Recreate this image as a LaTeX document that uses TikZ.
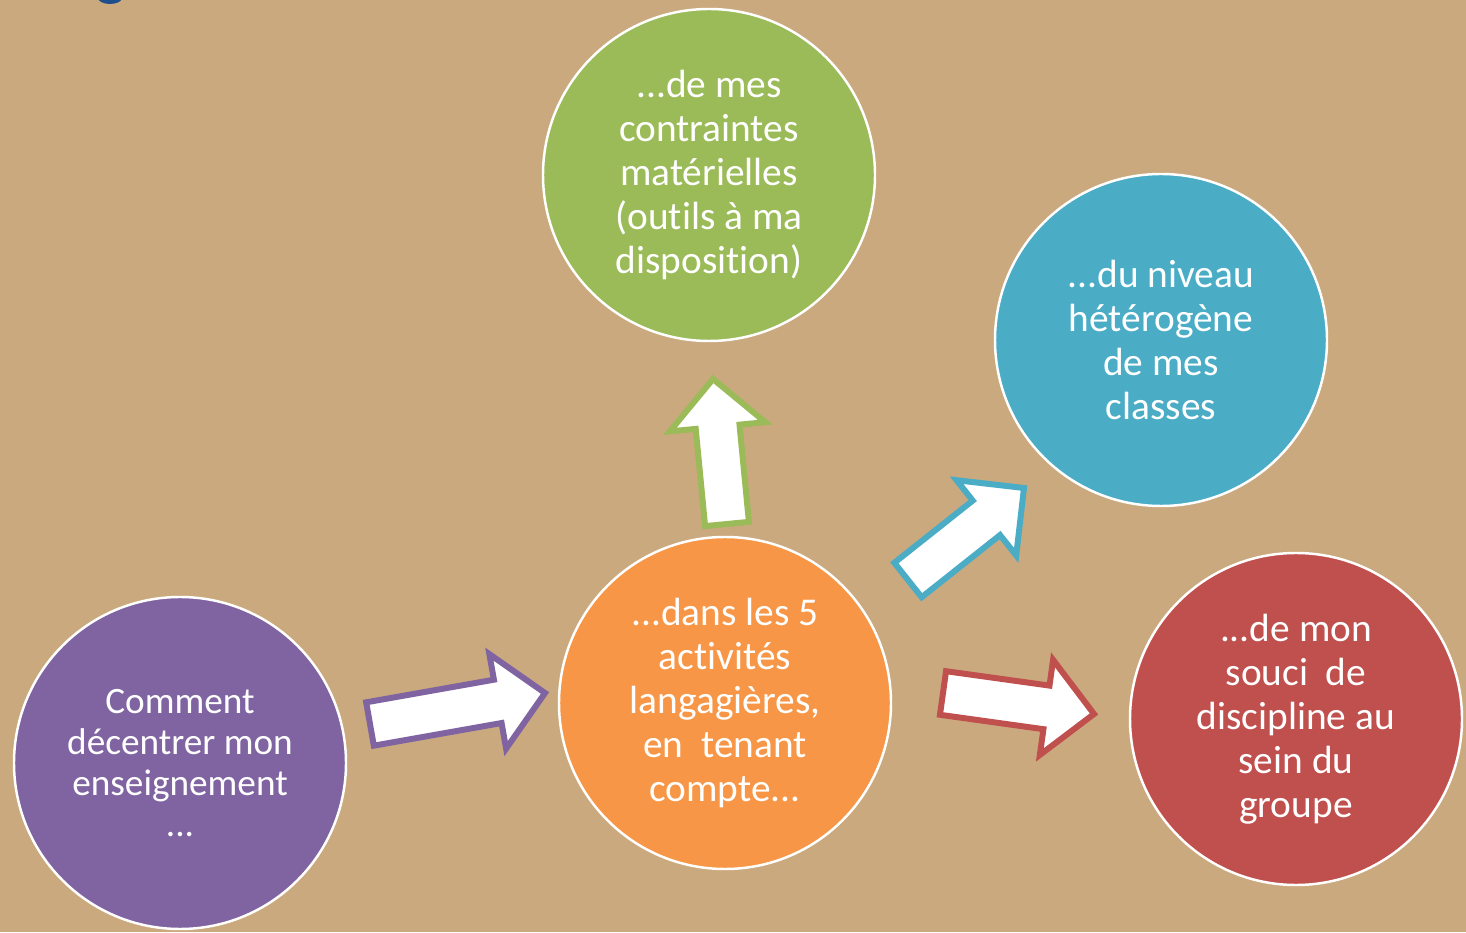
\documentclass[tikz,border=0pt]{standalone}
\usepackage{fontspec}
\setmainfont{Carlito}[Ligatures=NoCommon]
\usetikzlibrary{calc}
\definecolor{carton}{HTML}{CBA97E}
\definecolor{violet}{HTML}{8064A2}
\definecolor{orange}{HTML}{F79646}
\definecolor{vert}{HTML}{9BBB59}
\definecolor{bleu}{HTML}{4BACC6}
\definecolor{rouge}{HTML}{C0504D}
\definecolor{titre}{HTML}{1F4E8C}
\begin{document}
\begin{tikzpicture}[
    bulle/.style={circle, draw=white, line width=0.7pt, fill=#1, minimum size=3.32cm,
      inner sep=0pt, text=white, align=center, font=\fontsize{11.2}{12.5}\selectfont},
    fleche/.style={draw=#1, fill=white, line width=1.7pt, line join=miter,
      to path={
        ($(\tikztostart)!0.22cm!90:(\tikztotarget)$)
        -- ($(\tikztotarget)!0.48cm!(\tikztostart)!0.22cm!-90:(\tikztostart)$)
        -- ($(\tikztotarget)!0.48cm!(\tikztostart)!0.48cm!-90:(\tikztostart)$)
        -- (\tikztotarget)
        -- ($(\tikztotarget)!0.48cm!(\tikztostart)!0.48cm!90:(\tikztostart)$)
        -- ($(\tikztotarget)!0.48cm!(\tikztostart)!0.22cm!90:(\tikztostart)$)
        -- ($(\tikztostart)!0.22cm!-90:(\tikztotarget)$)
        -- cycle}}
  ]
  \useasboundingbox (0,0) rectangle (14.66,9.32);
  \fill [carton] (0,0) rectangle (14.66,9.32);
  \fill [titre] (1.10,9.34) ellipse (0.12 and 0.06);

  % les bulles
  \node [bulle=violet, font=\fontsize{10.6}{11.7}\selectfont] (comment) at (1.80,1.69)
    {Comment\\décentrer mon\\enseignement\\...};
  \node [bulle=orange] (activites) at (7.25,2.29)
    {...dans les 5\\activités\\langagières,\\en\ \ tenant\\compte...};
  \node [bulle=vert] (contraintes) at (7.09,7.57)
    {...de mes\\contraintes\\matérielles\\(outils à ma\\disposition)};
  \node [bulle=bleu] (niveau) at (11.61,5.92)
    {...du niveau\\hétérogène\\de mes\\classes};
  \node [bulle=rouge] (discipline) at (12.96,2.13)
    {...de mon\\souci\ \ de\\discipline au\\sein du\\groupe};

  % les fleches
  \coordinate (comment-out) at (3.70,2.08);
  \coordinate (activites-in) at (5.45,2.39);
  \coordinate (haut-out) at (7.27,4.08);
  \coordinate (contraintes-in) at (7.13,5.53);
  \coordinate (droite-out) at (9.08,3.52);
  \coordinate (niveau-in) at (10.24,4.44);
  \coordinate (bas-out) at (9.43,2.39);
  \coordinate (discipline-in) at (10.94,2.18);
  \draw [fleche=violet] (comment-out) to (activites-in);
  \draw [fleche=vert] (haut-out) to (contraintes-in);
  \draw [fleche=bleu] (droite-out) to (niveau-in);
  \draw [fleche=rouge] (bas-out) to (discipline-in);
\end{tikzpicture}
\end{document}
